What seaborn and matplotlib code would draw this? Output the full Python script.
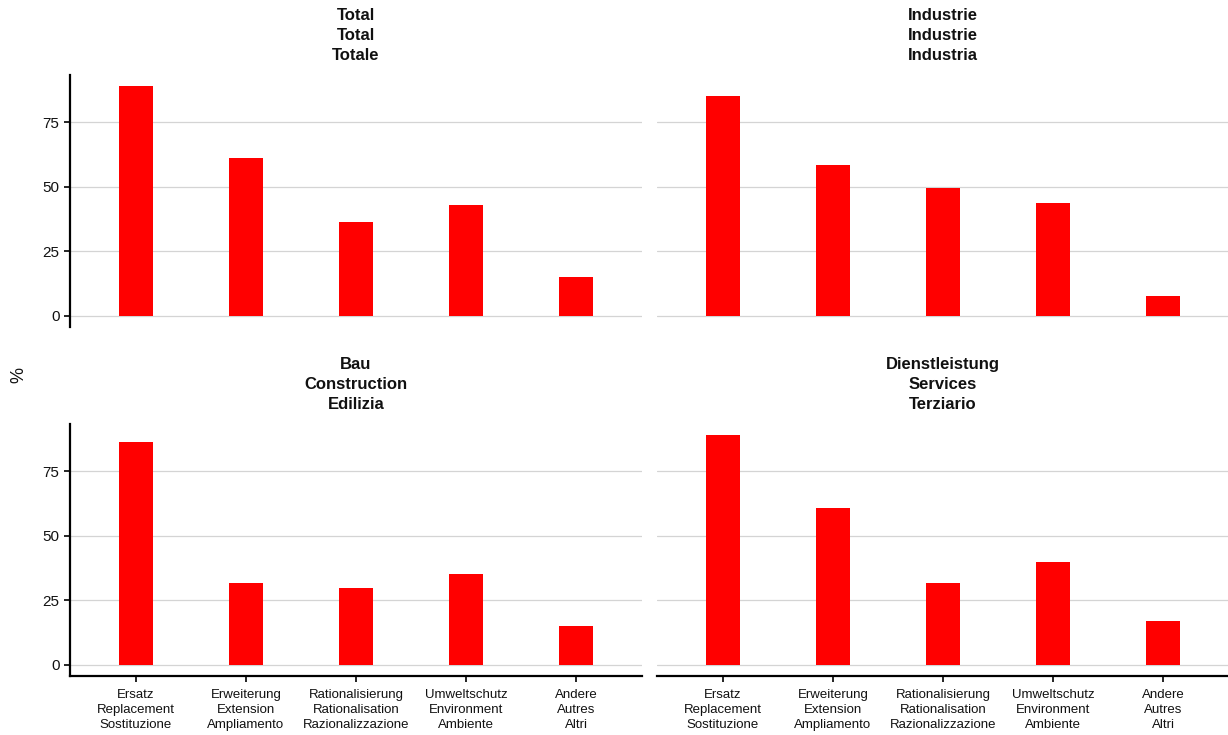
import matplotlib
matplotlib.use("Agg")
import matplotlib.pyplot as plt
import seaborn as sns
import pandas as pd

categories = [
    "Ersatz\nReplacement\nSostituzione",
    "Erweiterung\nExtension\nAmpliamento",
    "Rationalisierung\nRationalisation\nRazionalizzazione",
    "Umweltschutz\nEnvironment\nAmbiente",
    "Andere\nAutres\nAltri",
]
panel_titles = [
    "Total\nTotal\nTotale",
    "Industrie\nIndustrie\nIndustria",
    "Bau\nConstruction\nEdilizia",
    "Dienstleistung\nServices\nTerziario",
]
total_values = [89.0, 61.3, 36.2, 42.8, 15.0]
industrie_values = [85.4, 58.5, 49.7, 43.8, 7.7]
bau_values = [86.3, 31.6, 29.6, 35.1, 15.0]
dienst_values = [89.0, 60.9, 31.6, 39.7, 16.9]
y_ticks = [0, 25, 50, 75]

series = [total_values, industrie_values, bau_values, dienst_values]
rows = []
for title, vals in zip(panel_titles, series):
    for c, v in zip(categories, vals):
        rows.append({"panel": title, "category": c, "value": v})
df = pd.DataFrame(rows)

sns.set_theme(style="white")
plt.rcParams["font.family"] = ["Liberation Sans", "DejaVu Sans"]

W, H = 1228, 735
fig = plt.figure(figsize=(W / 100, H / 100), dpi=100)

def px_axes(x0, y0, x1, y1):
    return fig.add_axes([x0 / W, 1 - y1 / H, (x1 - x0) / W, (y1 - y0) / H])

boxes = [
    (70, 75, 642, 327),
    (657, 75, 1229, 327),
    (70, 424, 642, 676),
    (657, 424, 1229, 676),
]

ymax = max(max(s) for s in series)
ylo, yhi = -0.05 * ymax, ymax * 1.05

for i, (title, box) in enumerate(zip(panel_titles, boxes)):
    ax = px_axes(*box)
    sub = df[df["panel"] == title]
    sns.barplot(data=sub, x="category", y="value", order=categories,
                color="#FF0000", saturation=1, width=0.31, errorbar=None,
                linewidth=0, edgecolor="none", ax=ax)
    ax.set_xlim(-0.6, len(categories) - 0.4)
    ax.set_ylim(ylo, yhi)
    ax.set_yticks(y_ticks)
    ax.set_axisbelow(True)
    ax.grid(axis="y", color="#d4d4d4", linewidth=0.9)
    ax.grid(axis="x", visible=False)
    ax.set_xlabel("")
    ax.set_ylabel("")
    ax.set_title(title, fontsize=12, fontweight="bold", color="#111111",
                 pad=11, linespacing=1.42)
    for s in ["top", "right", "left", "bottom"]:
        ax.spines[s].set_visible(False)
    left_col = i % 2 == 0
    bottom_row = i >= 2
    if left_col:
        ax.spines["left"].set_visible(True)
        ax.spines["left"].set_color("black")
        ax.spines["left"].set_linewidth(1.6)
        ax.tick_params(axis="y", left=True, length=4.5, width=1.2, color="black",
                       labelsize=11, labelcolor="#111111", pad=3)
    else:
        ax.tick_params(axis="y", left=False, labelleft=False)
    if bottom_row:
        ax.spines["bottom"].set_visible(True)
        ax.spines["bottom"].set_color("black")
        ax.spines["bottom"].set_linewidth(1.6)
        ax.tick_params(axis="x", bottom=True, length=4.5, width=1.2, color="black",
                       labelsize=9.5, labelcolor="#111111", pad=5)
        for lab in ax.get_xticklabels():
            lab.set_multialignment("center")
            lab.set_linespacing(1.3)
    else:
        ax.tick_params(axis="x", bottom=False, labelbottom=False)

fig.text(19 / W, 1 - 375 / H, "%", rotation=90, ha="center", va="center",
         fontsize=13, color="#111111")

fig.savefig("out.png", dpi=100)
